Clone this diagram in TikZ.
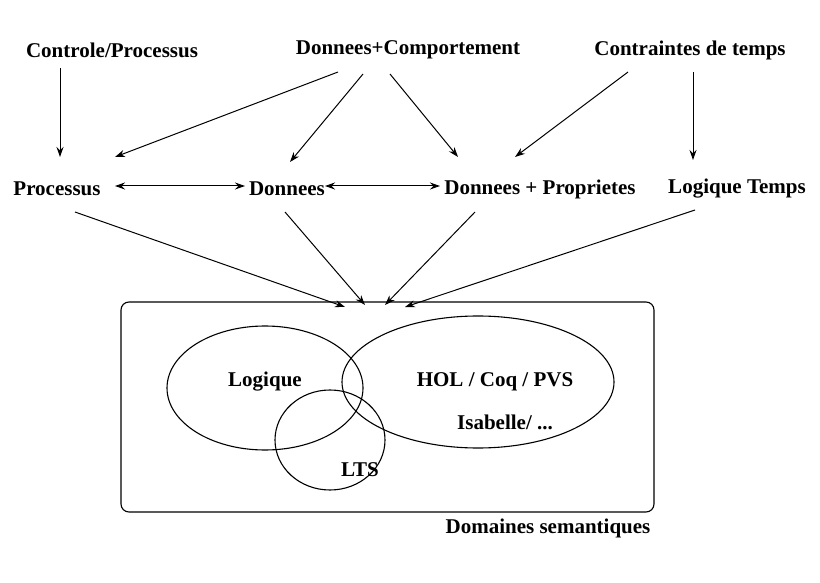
\documentclass[tikz,border=0pt]{standalone}
\usepackage{fontspec}
\setmainfont{Liberation Serif}
\usetikzlibrary{arrows.meta}
\begin{document}
\begin{tikzpicture}[x=1pt,y=-1pt,
  lbl/.style={font=\bfseries\fontsize{21}{24}\selectfont, inner sep=1pt},
  arr/.style={-{Stealth[length=10pt,width=7pt]}, line width=1pt},
  darr/.style={{Stealth[length=10pt,width=7pt]}-{Stealth[length=10pt,width=7pt]}, line width=1pt},
  outl/.style={line width=1.1pt}]
\useasboundingbox (0,0) rectangle (820,583);
\node[lbl] (cp) at (112,50) {Controle/Processus};
\node[lbl] (dc) at (408,50) {Donnees+Comportement};
\node[lbl] (ct) at (690,50) {Contraintes de temps};
\node[lbl] (pr) at (57,189) {Processus};
\node[lbl] (do) at (287,189) {Donnees};
\node[lbl] (dp) at (540,189) {Donnees + Proprietes};
\node[lbl] (lt) at (737,189) {Logique Temps};
\draw[outl, rounded corners=8pt] (121,302) rectangle (654,512);
\draw[outl] (265,388) ellipse [x radius=98, y radius=62];
\draw[outl] (478,382) ellipse [x radius=136, y radius=66];
\draw[outl] (330,440) ellipse [x radius=55, y radius=50];
\node[lbl] (lo) at (265,382) {Logique};
\node[lbl] (hol) at (495,382) {HOL / Coq / PVS};
\node[lbl] (isa) at (505,422) {Isabelle/ ...};
\node[lbl] (lts) at (360,470) {LTS};
\node[lbl] (dom) at (548,528) {Domaines semantiques};
\coordinate (t1) at (345,307);
\coordinate (t2) at (365,305);
\coordinate (t3) at (385,305);
\coordinate (t4) at (405,307);
\draw[arr] (60,68) -- (60,157);
\draw[arr] (338,72) -- (115,157);
\draw[arr] (363,74) -- (290,162);
\draw[arr] (390,74) -- (458,157);
\draw[arr] (628,72) -- (515,157);
\draw[arr] (693,72) -- (693,160);
\draw[darr] (115,186) -- (245,186);
\draw[darr] (325,186) -- (440,186);
\draw[arr] (75,212) -- (t1);
\draw[arr] (285,212) -- (t2);
\draw[arr] (475,212) -- (t3);
\draw[arr] (695,210) -- (t4);
\end{tikzpicture}
\end{document}
